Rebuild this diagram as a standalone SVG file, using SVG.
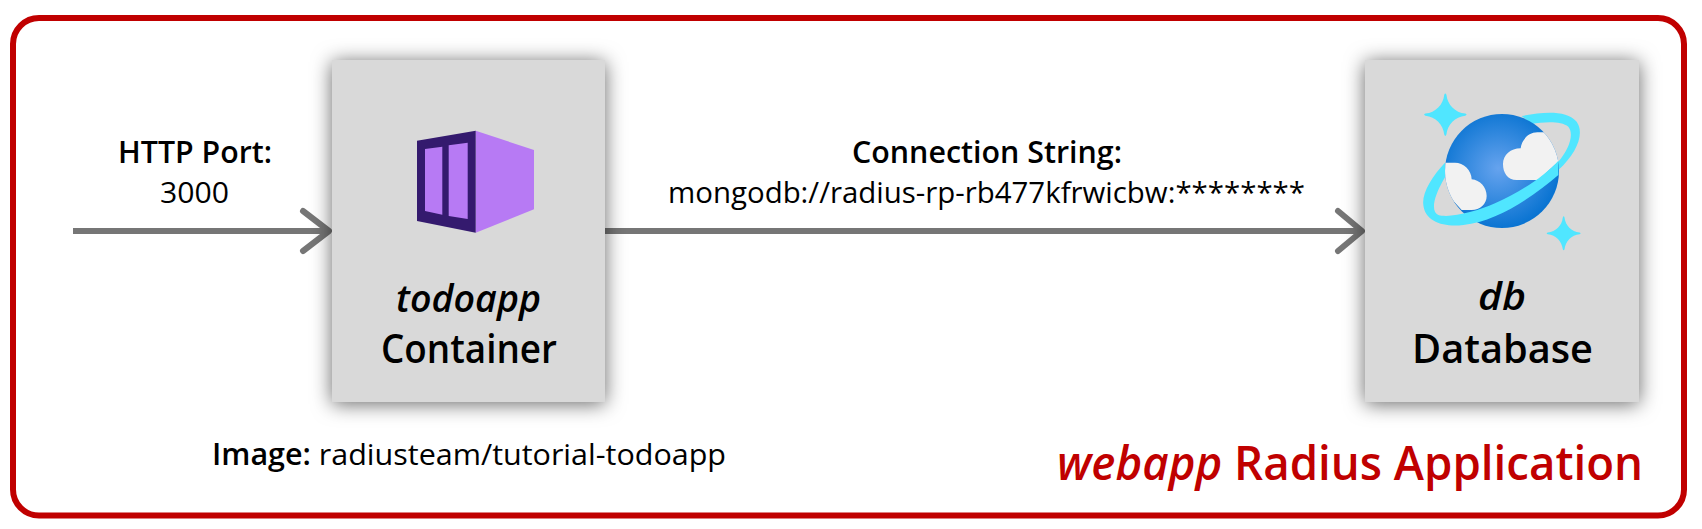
<svg xmlns="http://www.w3.org/2000/svg" width="1702" height="529" viewBox="0 0 1702 529">
<style>
text{font-family:"Open Sans","Noto Sans","Liberation Sans",sans-serif;fill:#000;text-anchor:start}
.b{font-weight:600}.i{font-style:italic}
.s30{font-size:30px}.s40{font-size:40px}.s38{font-size:37px}
.box{fill:#d9d9d9;filter:url(#sh)}
.conn{fill:none;stroke:#767676;stroke-width:6;stroke-linecap:round;stroke-linejoin:round}
.ring,.star{fill:#50e6ff}
.red{fill:#c00000;font-size:47px;font-weight:600}
</style>
<defs>
<filter id="sh" x="-25%" y="-25%" width="150%" height="150%"><feDropShadow dx="0" dy="2" stdDeviation="10" flood-color="#000" flood-opacity=".6"/></filter>
<radialGradient id="gl" gradientUnits="userSpaceOnUse" cx="235" cy="235" r="180"><stop offset="0" stop-color="#66a3ee"/><stop offset="1" stop-color="#0a74d2"/></radialGradient>
<clipPath id="sphere"><circle cx="246" cy="243" r="171"/></clipPath>
<path id="star" d="M-5 -92Q0 -104 5 -92C10 -45 45 -10 92 -5Q104 0 92 5C45 10 10 45 5 92Q0 104 -5 92C-10 45 -45 10 -92 5Q-104 0 -92 -5C-45 -10 -10 -45 -5 -92Z"/>
</defs>
<rect id="frame" x="13" y="18" width="1671" height="497.500" rx="26" fill="#fff" stroke="#c00000" stroke-width="6"/>
<g id="connectors">
<path class="conn" style="stroke-linecap:butt" d="M73 231H329"/>
<path class="conn" d="M303 211L329 231L303 251"/>
<path class="conn" style="stroke-linecap:butt" d="M605 231H1362"/>
<path class="conn" d="M1338 211L1362 231L1338 251"/>
</g>
<g id="todoapp">
<rect class="box" x="332" y="60" width="273" height="342"/>
<polygon fill="#b77af4" points="475.700,130.700 534,150 534,209.300 475.700,232.700"/>
<polygon fill="#341a6e" points="417,140.700 475.700,130.700 475.700,232.700 417,221"/>
<polygon fill="#b77af4" points="425,149 442.300,146.700 442.300,214.700 425,211"/>
<polygon fill="#b77af4" points="448.700,145.300 467.700,142.700 467.700,219 448.700,216"/>
<text class="b i s38" x="396" y="312" textLength="145" lengthAdjust="spacingAndGlyphs">todoapp</text>
<text class="b s40" x="381" y="363" textLength="176" lengthAdjust="spacingAndGlyphs">Container</text>
</g>
<g id="db">
<rect class="box" x="1365" y="60" width="274" height="342"/>
<g transform="translate(1420 90) scale(.33333)">
<path class="ring" d="M305 78C370 65 440 60 470 95C495 130 470 190 415 240L415 215C450 175 462 130 445 110C425 92 370 95 335 102Z"/>
<circle cx="246" cy="243" r="171" fill="url(#gl)"/>
<g clip-path="url(#sphere)" fill="#f2f2f2">
<path d="M355 270L290 270C262 270 249 248 249 222C249 195 272 175 302 175C305 150 325 127 352 127L375 127L420 170L420 210Z"/>
<path d="M70 218L105 218C130 218 155 240 155 268C180 270 200 292 200 318C200 342 180 360 155 360L125 360L70 300Z"/>
</g>
<path class="ring" d="M415 212C370 262 300 305 225 340C170 365 90 385 55 375C35 365 35 330 75 262L75 218C35 260 5 310 10 345C15 395 70 412 130 405C230 395 340 320 415 255Z"/>
<use href="#star" class="star" transform="translate(76 74) scale(.65)"/>
<use href="#star" class="star" transform="translate(431 430) scale(.52)"/>
</g>
<text class="b i s38" x="1478" y="310" textLength="48" lengthAdjust="spacingAndGlyphs">db</text>
<text class="b s40" x="1412" y="363" textLength="181" lengthAdjust="spacingAndGlyphs">Database</text>
</g>
<g id="labels">
<text class="b s30" x="118" y="163" textLength="154" lengthAdjust="spacingAndGlyphs">HTTP Port:</text>
<text class="s30" x="160" y="203" textLength="69" lengthAdjust="spacingAndGlyphs">3000</text>
<text class="b s30" x="852" y="163" textLength="270" lengthAdjust="spacingAndGlyphs">Connection String:</text>
<text class="s30" x="668" y="203" textLength="637" lengthAdjust="spacingAndGlyphs">mongodb://radius-rp-rb477kfrwicbw:********</text>
<text class="s30" x="212" y="465" textLength="514" lengthAdjust="spacingAndGlyphs"><tspan class="b">Image:</tspan> radiusteam/tutorial-todoapp</text>
<text class="red" x="1057" y="480" textLength="586" lengthAdjust="spacingAndGlyphs"><tspan class="i" style="fill:#c00000">webapp</tspan> <tspan style="fill:#c00000">Radius Application</tspan></text>
</g>
</svg>
